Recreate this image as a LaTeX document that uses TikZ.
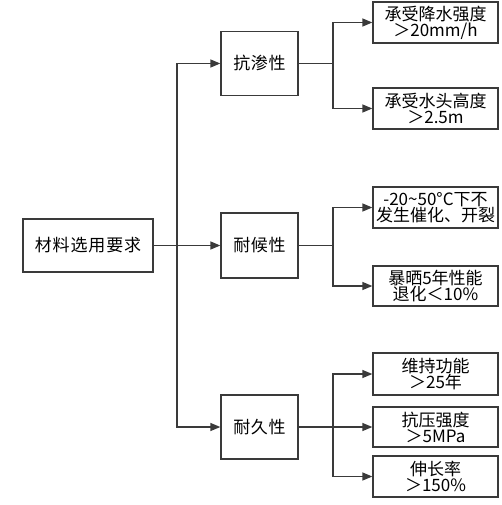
\documentclass[tikz,border=0pt]{standalone}
\usepackage{fontspec}
\setmainfont{Noto Sans CJK SC}
\usetikzlibrary{arrows.meta}
\definecolor{ln}{HTML}{3A3A3A}
\tikzset{
  x=1pt, y=-1pt,
  box/.style={draw=ln, line width=1.3pt, rectangle, inner sep=0pt, align=center, text=black},
  lvone/.style={box, minimum width=130pt, minimum height=53pt, font=\fontsize{17}{19}\selectfont\addfontfeature{LetterSpace=5}},
  lvtwo/.style={box, minimum width=77pt, minimum height=64pt, font=\fontsize{17}{19}\selectfont\addfontfeature{LetterSpace=4}},
  lvthree/.style={box, minimum width=125pt, minimum height=41pt, font=\fontsize{17}{15.8}\selectfont},
  conn/.style={draw=ln, line width=1.3pt},
  arr/.style={conn, -{Triangle[length=10pt,width=8pt]}}
}
\begin{document}
\begin{tikzpicture}
\useasboundingbox (0,0) rectangle (502,505);
\node[lvone] (root) at (88,245.5) {材料选用要求};
\node[lvtwo] (p1) at (259.5,63.5) {抗渗性};
\node[lvtwo, minimum height=65pt] (p2) at (259.5,245.5) {耐候性};
\node[lvtwo] (p3) at (259.5,427) {耐久性};
\node[lvthree] (b1) at (435.5,22.5) {承受降水强度\\＞20mm/h};
\node[lvthree] (b2) at (435.5,108.5) {承受水头高度\\＞2.5m};
\node[lvthree] (b3) at (435.5,207.5) {-20\textasciitilde50°C下不\\发生催化、开裂};
\node[lvthree, minimum height=40pt] (b4) at (435.5,286) {暴晒5年性能\\退化＜10\%};
\node[lvthree, minimum height=42pt] (b5) at (435.5,374) {维持功能\\＞25年};
\node[lvthree, minimum height=40pt] (b6) at (435.5,427) {抗压强度\\＞5MPa};
\node[lvthree] (b7) at (435.5,476.5) {伸长率\\＞150\%};
\coordinate (t0) at (177,245.5);
\coordinate (s1) at (333,63.5);
\coordinate (s2) at (333,245.5);
\coordinate (s3) at (333,427);
\draw[conn] (root.east) -- (t0);
\draw[arr] (t0) |- (p1.west);
\draw[arr] (t0) -- (p2.west);
\draw[arr] (t0) |- (p3.west);
\draw[conn] (p1.east) -- (s1);
\draw[arr] (s1) |- (b1.west);
\draw[arr] (s1) |- (b2.west);
\draw[conn] (p2.east) -- (s2);
\draw[arr] (s2) |- (b3.west);
\draw[arr] (s2) |- (b4.west);
\draw[conn] (p3.east) -- (s3);
\draw[arr] (s3) |- (b5.west);
\draw[arr] (s3) -- (b6.west);
\draw[arr] (s3) |- (b7.west);
\end{tikzpicture}
\end{document}
